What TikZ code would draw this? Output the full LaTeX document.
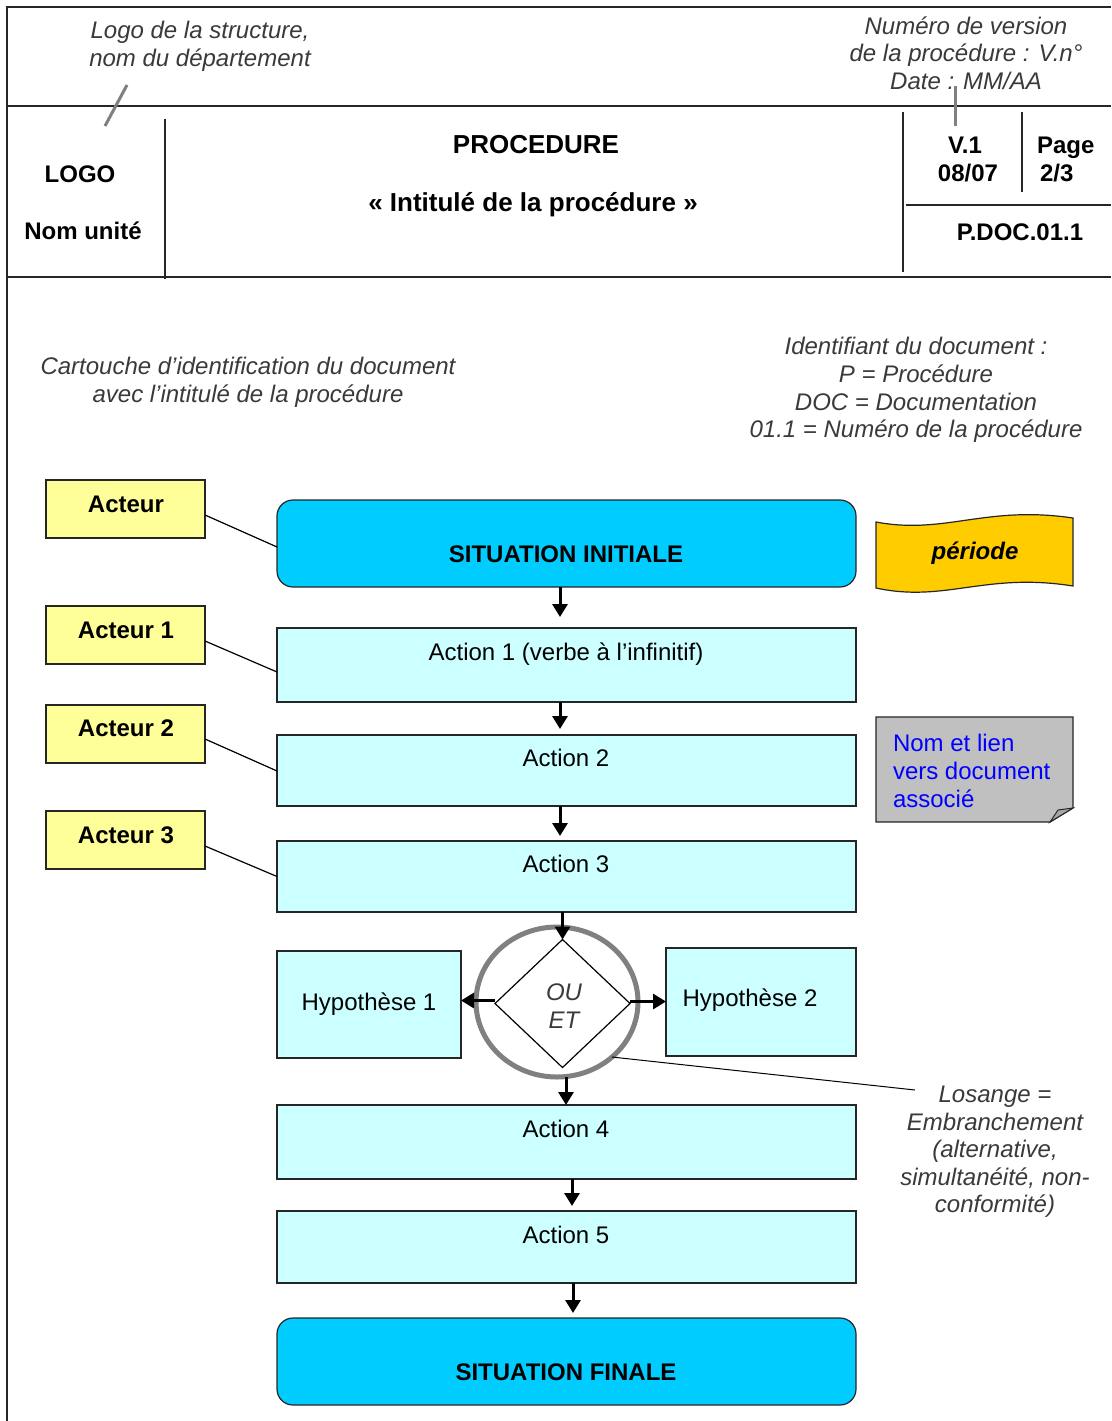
\documentclass[tikz,border=0pt]{standalone}
\usepackage{fontspec}
\setmainfont{Liberation Sans}
\usetikzlibrary{shapes.geometric,arrows.meta,calc}
\definecolor{lcyan}{HTML}{CCFFFF}
\definecolor{dcyan}{HTML}{00CCFF}
\definecolor{lyel}{HTML}{FFFF99}
\definecolor{gold}{HTML}{FFCC00}
\definecolor{notegray}{HTML}{C0C0C0}
\definecolor{anno}{HTML}{3A3A3A}
\definecolor{ringgray}{HTML}{808080}
\definecolor{linkblue}{HTML}{0000FF}
\begin{document}
\begin{tikzpicture}[x=1pt,y=-1pt,
  every node/.style={inner sep=0pt,outer sep=0pt,font=\fontsize{24}{27.6}\selectfont},
  frameline/.style={line width=1.6pt,draw=black!85},
  graylink/.style={line width=3pt,draw=ringgray},
  boxbase/.style={rectangle,draw=black!85,line width=1.2pt},
  actbox/.style={boxbase,fill=lcyan},
  sitbox/.style={boxbase,fill=dcyan,rounded corners=16pt},
  actorbox/.style={boxbase,fill=lyel},
  one/.style={anchor=center,text height=17.2pt,text depth=0pt},
  bold/.style={font=\fontsize{24}{27.6}\selectfont\bfseries},
  annot/.style={align=center,text=anno,font=\fontsize{24}{27.6}\selectfont\itshape},
  conn/.style={line width=1.2pt,draw=black},
  arr/.style={line width=3pt,-{Triangle[length=13pt,width=15pt]}},
]
\useasboundingbox (0,0) rectangle (1111,1421);
\fill[white] (0,0) rectangle (1111,1421);

% ---------- header frame ----------
\draw[frameline] (1111,7) -- (7,7) -- (7,1421);
\draw[frameline] (7,106) -- (1111,106);
\draw[frameline] (7,277) -- (1111,277);
\draw[frameline] (165,119) -- (165,279);
\draw[frameline] (903,112) -- (903,272);
\draw[frameline] (1022,112) -- (1022,192);
\draw[frameline] (906,205) -- (1111,205);

% header annotations
\node[annot] (logoann) at (200,46.5) {Logo de la structure,\\ nom du département};
\node[annot] (versann) at (966,53) {Numéro de version\\de la procédure : V.n°\\Date : MM/AA};
\coordinate (lg1) at (127,85);
\coordinate (lg2) at (105,126);
\draw[graylink] (lg1) -- (lg2);
\coordinate (vr1) at (955,86);
\coordinate (vr2) at (955,126);
\draw[graylink] (vr1) -- (vr2);

% header texts
\node[one,bold] (logo) at (80,174) {LOGO};
\node[one,bold] (unite) at (83,231) {Nom unité};
\node[one,font=\fontsize{26}{30}\selectfont\bfseries] (proc) at (536,145) {PROCEDURE};
\node[one,font=\fontsize{26}{30}\selectfont\bfseries] (intit) at (533,203) {« Intitulé de la procédure »};
\node[one,bold] (ver) at (965,145) {V.1};
\node[one,bold] (date) at (968,173) {08/07};
\node[one,bold,anchor=west] (page) at (1037,145) {Page};
\node[one,bold,anchor=west] (pnum) at (1040,173) {2/3};
\node[one,bold] (ident) at (1020,232) {P.DOC.01.1};

% annotations
\node[annot] (cart) at (248,382) {Cartouche d’identification du document\\avec l’intitulé de la procédure};
\node[annot] (idann) at (916,390) {Identifiant du document :\\P = Procédure\\DOC = Documentation\\01.1 = Numéro de la procédure};

% ---------- main flow ----------
\node[sitbox,minimum width=579,minimum height=87] (si) at (566.5,543.5) {};
\node[one,bold] (sit) at (566,554) {SITUATION INITIALE};
\node[actbox,minimum width=579,minimum height=74] (a1) at (566.5,665) {};
\node[one] (a1t) at (566,652) {Action 1 (verbe à l’infinitif)};
\node[actbox,minimum width=579,minimum height=71] (a2) at (566.5,770.5) {};
\node[one] (a2t) at (566,758) {Action 2};
\node[actbox,minimum width=579,minimum height=71] (a3) at (566.5,876.5) {};
\node[one] (a3t) at (566,864) {Action 3};
\node[actbox,minimum width=184,minimum height=107] (h1) at (369,1004.5) {};
\node[one] (h1t) at (369,1002) {Hypothèse 1};
\node[actbox,minimum width=190,minimum height=108] (h2) at (761,1002) {};
\node[one] (h2t) at (750,998) {Hypothèse 2};
\node[actbox,minimum width=579,minimum height=74] (a4) at (566.5,1142) {};
\node[one] (a4t) at (566,1129) {Action 4};
\node[actbox,minimum width=579,minimum height=72] (a5) at (566.5,1247) {};
\node[one] (a5t) at (566,1235) {Action 5};
\node[sitbox,minimum width=579,minimum height=87] (sf) at (566.5,1361.5) {};
\node[one,bold] (sft) at (566,1372) {SITUATION FINALE};

% decision
\node[ellipse,draw=ringgray,line width=5pt,minimum width=162,minimum height=150] (ring) at (557,1002) {};
\node[diamond,draw=black,line width=1.2pt,fill=white,minimum width=135,minimum height=128,inner sep=0pt] (dia) at (562.5,1003.5) {};
\node[annot] (ouet) at (564,1006) {OU\\ET};

% actors
\node[actorbox,minimum width=159,minimum height=58] (ac0) at (125.5,509) {};
\node[one,bold] (ac0t) at (126,504) {Acteur};
\node[actorbox,minimum width=159,minimum height=58] (ac1) at (125.5,635) {};
\node[one,bold] (ac1t) at (126,630) {Acteur 1};
\node[actorbox,minimum width=159,minimum height=58] (ac2) at (125.5,734) {};
\node[one,bold] (ac2t) at (126,728) {Acteur 2};
\node[actorbox,minimum width=159,minimum height=58] (ac3) at (125.5,840) {};
\node[one,bold] (ac3t) at (126,835) {Acteur 3};

\draw[conn] ([yshift=-6pt]ac0.east) -- ([yshift=-3.5pt]si.west);
\draw[conn] ([yshift=-6pt]ac1.east) -- ([yshift=-7pt]a1.west);
\draw[conn] ([yshift=-5pt]ac2.east) -- ([yshift=-0.5pt]a2.west);
\draw[conn] ([yshift=-6pt]ac3.east) -- (a3.west);

% arrows
\draw[arr] ([xshift=-6.5pt]si.south) -- ([xshift=-6.5pt,yshift=11pt]a1.north);
\draw[arr] ([xshift=-6.5pt]a1.south) -- ([xshift=-6.5pt,yshift=6pt]a2.north);
\draw[arr] ([xshift=-6.5pt]a2.south) -- ([xshift=-6.5pt,yshift=5pt]a3.north);
\draw[arr] (a3.south -| dia.north) -- (dia.north);
\draw[arr] ([yshift=3pt]dia.west) -- ([yshift=3pt]dia.west -| h1.east);
\draw[arr] ([yshift=2pt]dia.east) -- ([yshift=2pt]dia.east -| h2.west);
\draw[arr] ([xshift=9pt]ring.south) -- ([xshift=9pt]ring.south |- a4.north);
\draw[arr] ([xshift=5.5pt]a4.south) -- ([xshift=5.5pt,yshift=5pt]a5.north);
\draw[arr] ([xshift=6.5pt]a5.south) -- ([xshift=6.5pt,yshift=5pt]sf.north);

% losange annotation
\node[annot] (los) at (995,1152) {Losange =\\Embranchement\\(alternative,\\simultanéité, non-\\conformité)};
\coordinate (losend) at (915,1090);
\draw[conn,line width=1pt] (ring.-45) -- (losend);

% periode banner
\draw[line width=1.2pt,fill=gold,draw=black!85]
  (876,522) .. controls (945,535) and (985,505) .. (1073,518)
  -- (1073,586) .. controls (985,572) and (945,603) .. (876,588) -- cycle;
\node[one,font=\fontsize{24}{27.6}\selectfont\bfseries\itshape] (per) at (975,551) {période};

% note
\draw[line width=1.2pt,fill=notegray,draw=black!85]
  (876,717) -- (1073,717) -- (1073,808) -- (1050,822) -- (876,822) -- cycle;
\draw[line width=1pt,fill=gray!70,draw=black!85] (1050,822) -- (1058,810) -- (1073,808) -- cycle;
\node[align=left,anchor=west,text=linkblue] (note) at (893,771) {Nom et lien\\vers document\\associé};
\end{tikzpicture}
\end{document}
